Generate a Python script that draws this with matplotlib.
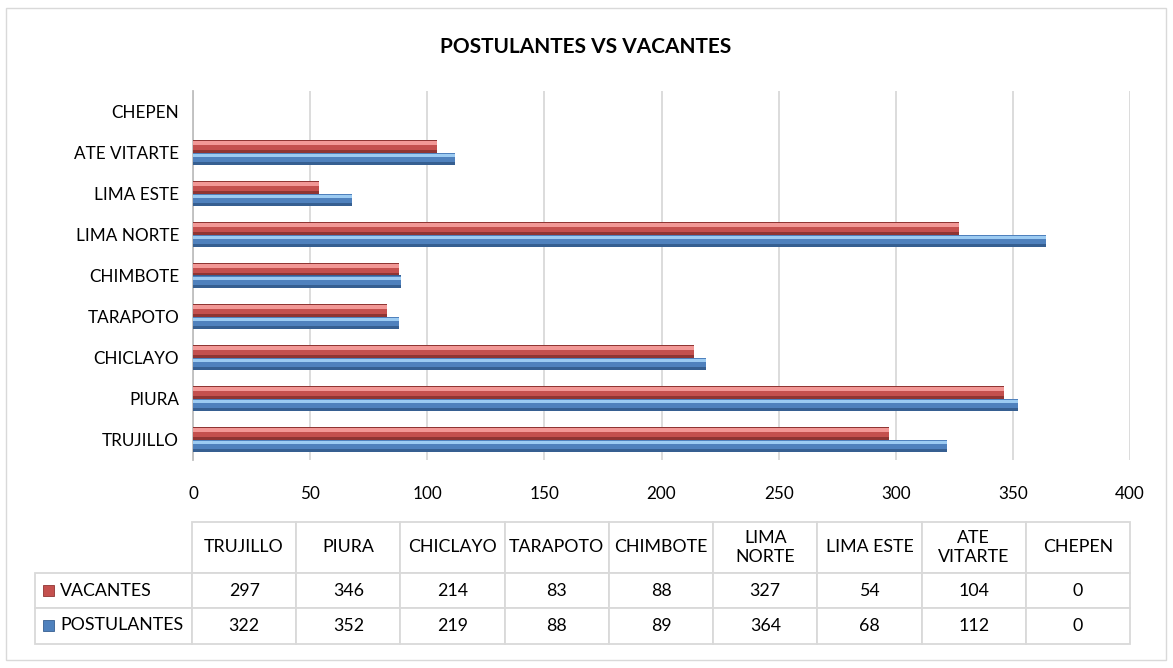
import matplotlib
matplotlib.use("Agg")
import matplotlib.pyplot as plt
from matplotlib.patches import Rectangle
import numpy as np

CATEGORIES = ["TRUJILLO", "PIURA", "CHICLAYO", "TARAPOTO", "CHIMBOTE",
              "LIMA NORTE", "LIMA ESTE", "ATE VITARTE", "CHEPEN"]
HEADER_LABELS = ["TRUJILLO", "PIURA", "CHICLAYO", "TARAPOTO", "CHIMBOTE",
                 "LIMA\nNORTE", "LIMA ESTE", "ATE\nVITARTE", "CHEPEN"]
SERIES_NAMES = ["VACANTES", "POSTULANTES"]
VACANTES = [297, 346, 214, 83, 88, 327, 54, 104, 0]
POSTULANTES = [322, 352, 219, 88, 89, 364, 68, 112, 0]
X_TICKS = [0, 50, 100, 150, 200, 250, 300, 350, 400]

FONT = "Lato"
W, H = 1173, 668

RED = {"mid": "#C4504E", "light": "#F29896", "dark": "#8F3533"}
BLUE = {"mid": "#4F81BD", "light": "#9CCBF2", "dark": "#365F91"}

plt.rcParams["font.family"] = [FONT, "DejaVu Sans"]

fig = plt.figure(figsize=(W / 100, H / 100), dpi=100)

# outer chart frame
fig.patches.append(Rectangle((6 / W, 8 / H), 1160 / W, 652 / H, transform=fig.transFigure,
                             fill=False, edgecolor="#D9D9D9", linewidth=1.0))

ax = fig.add_axes([193 / W, (H - 460) / H, 937 / W, 369 / H])

y = np.arange(len(CATEGORIES))
bh = 0.3


def bevel_bars(ypos, vals, c):
    # three stacked layers to fake the excel bevel gradient
    ax.barh(ypos, vals, height=bh, color=c["dark"], zorder=3)
    ax.barh(ypos + bh * 0.08, vals, height=bh * 0.75, color=c["mid"], zorder=3)
    ax.barh(ypos + bh * 0.25, vals, height=bh * 0.3, color=c["light"], zorder=3)


bevel_bars(y + bh / 2, VACANTES, RED)
bevel_bars(y - bh / 2, POSTULANTES, BLUE)

ax.set_xlim(0, 400)
ax.set_ylim(-0.5, len(CATEGORIES) - 0.5)
ax.set_xticks(X_TICKS)
ax.set_yticks(y)
ax.set_yticklabels(CATEGORIES)
ax.tick_params(axis="both", length=0, labelsize=12.3, colors="black")
ax.tick_params(axis="x", pad=19)
ax.tick_params(axis="y", pad=10)
ax.grid(axis="x", color="#D9D9D9", linewidth=1.3, zorder=0)
ax.set_axisbelow(True)
for side in ["top", "right", "bottom"]:
    ax.spines[side].set_visible(False)
ax.spines["left"].set_color("#BFBFBF")
ax.spines["left"].set_linewidth(1.3)

fig.text(586 / W, 1 - 47 / H, "POSTULANTES VS VACANTES", ha="center", va="center",
         fontsize=15, fontweight="bold")

# data table below the chart
tab_ax = fig.add_axes([35 / W, (H - 644) / H, (1130 - 35) / W, (644 - 522) / H])
tab_ax.axis("off")
cell_text = [[""] + HEADER_LABELS,
             [""] + [str(v) for v in VACANTES],
             [""] + [str(v) for v in POSTULANTES]]
tbl = tab_ax.table(cellText=cell_text, bbox=[0, 0, 1, 1], cellLoc="center")
tbl.auto_set_font_size(False)
first_w = 157 / 1095
col_w = (1 - first_w) / len(CATEGORIES)
row_h = [51, 35, 36]
for (r, c), cell in tbl.get_celld().items():
    cell.set_width(first_w if c == 0 else col_w)
    cell.set_height(row_h[r] / 122)
    cell.set_edgecolor("#D9D9D9")
    cell.set_linewidth(1.3)
    cell.get_text().set_fontsize(12.8)
    cell.get_text().set_linespacing(1.3)
tbl[0, 0].set_linewidth(0)
tbl[0, 0].set_edgecolor("white")

# legend keys and series names in the row label cells
for i, (name, c) in enumerate(zip(SERIES_NAMES, [RED, BLUE])):
    yc = 1 - (51 + 35 * i + 17.5) / 122
    tab_ax.add_patch(Rectangle((8 / 1095, yc - 5.5 / 122), 11 / 1095, 11 / 122,
                               transform=tab_ax.transAxes, facecolor=c["mid"],
                               edgecolor=c["dark"], linewidth=0.6, clip_on=False, zorder=5))
    tab_ax.text(25 / 1095, yc, name, transform=tab_ax.transAxes, ha="left", va="center",
                fontsize=12.8, zorder=5)

fig.savefig("out.png", dpi=100)
